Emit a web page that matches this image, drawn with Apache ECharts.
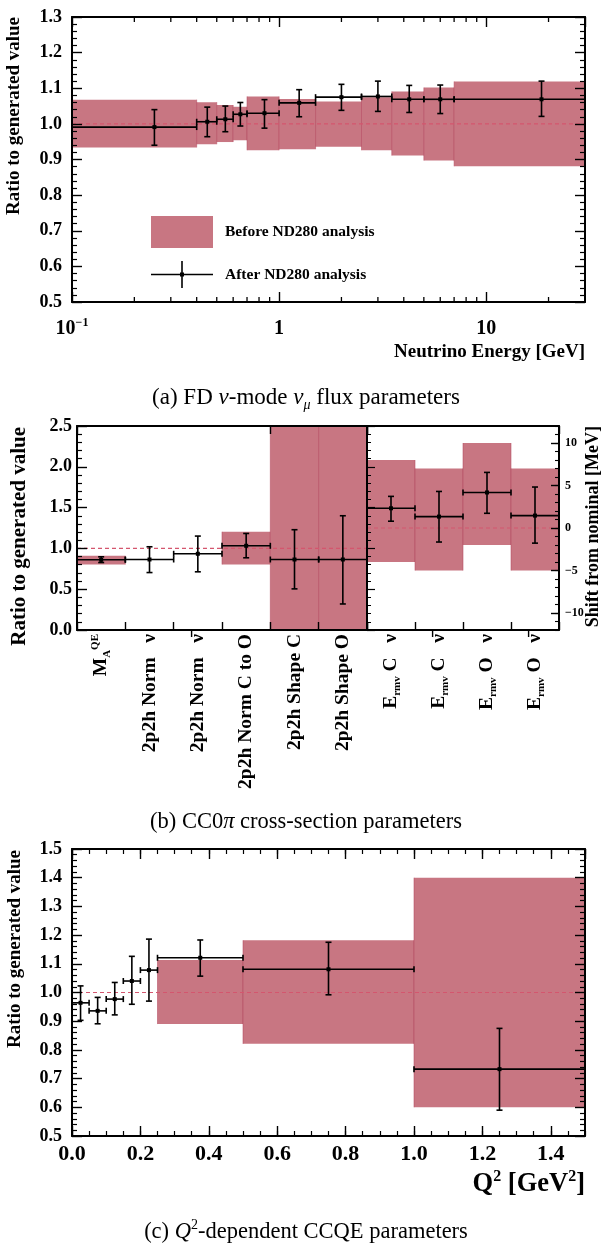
<!DOCTYPE html>
<html><head><meta charset="utf-8">
<script src="https://cdn.jsdelivr.net/npm/echarts@6/dist/echarts.min.js"></script>
<style>html,body{margin:0;padding:0;background:#fff}#c{width:603px;height:1243px}</style>
</head><body><div id="c"></div>
<script>
// ---------- Panel (a): FD nu-mode numu flux ----------
const fluxEdges = [0.1, 0.4, 0.5, 0.6, 0.7, 1.0, 1.5, 2.5, 3.5, 5.0, 7.0, 30];
const fluxBandLow  = [0.934, 0.943, 0.949, 0.954, 0.926, 0.929, 0.936, 0.926, 0.911, 0.897, 0.881];
const fluxBandHigh = [1.068, 1.061, 1.053, 1.048, 1.077, 1.070, 1.063, 1.075, 1.091, 1.102, 1.119];
const fluxPost     = [0.991, 1.006, 1.013, 1.027, 1.030, 1.059, 1.075, 1.077, 1.069, 1.069, 1.069];
const fluxPostLow  = [0.940, 0.964, 0.978, 0.994, 0.988, 1.020, 1.038, 1.035, 1.032, 1.029, 1.021];
const fluxPostHigh = [1.040, 1.047, 1.050, 1.060, 1.068, 1.096, 1.111, 1.120, 1.108, 1.109, 1.120];
const fluxMinorTicks = [0.2, 0.3, 0.4, 0.5, 0.6, 0.7, 0.8, 0.9, 2, 3, 4, 5, 6, 7, 8, 9, 20, 30];
const fluxNominal = 1.0;

// ---------- Panel (b): CC0pi cross-section parameters ----------
const xsecLabels = ['{b|M}{sub|A}{sup|QE}', '2p2h Norm\u00a0\u00a0\u00a0ν', '2p2h Norm\u00a0\u00a0\u00a0ν\u0304',
  '2p2h Norm C to O', '2p2h Shape C', '2p2h Shape O'];
const xsecBandLow  = [0.803, null, null, 0.803, 0.0, 0.0];
const xsecBandHigh = [0.909, null, null, 1.204, 2.5, 2.5];
const xsecPost     = [0.860, 0.864, 0.934, 1.032, 0.864, 0.864];
const xsecPostLow  = [0.827, 0.704, 0.713, 0.885, 0.504, 0.319];
const xsecPostHigh = [0.897, 1.020, 1.151, 1.183, 1.229, 1.400];
const xsecNominal = 1.0;

const ermvLabels = ['{b|E}{sub|rmv}{b|\u00a0C\u00a0\u00a0\u00a0ν}', '{b|E}{sub|rmv}{b|\u00a0C\u00a0\u00a0\u00a0ν\u0304}',
  '{b|E}{sub|rmv}{b|\u00a0O\u00a0\u00a0\u00a0ν}', '{b|E}{sub|rmv}{b|\u00a0O\u00a0\u00a0\u00a0ν\u0304}'];
const ermvBandLow  = [-4.0, -5.0, -2.0, -5.0];
const ermvBandHigh = [8.0, 7.0, 10.0, 7.0];
const ermvPost     = [2.32, 1.34, 4.18, 1.46];
const ermvPostLow  = [0.80, -1.65, 1.73, -1.78];
const ermvPostHigh = [3.72, 4.30, 6.54, 4.82];
const ermvMajorTicks = [-10, -5, 0, 5, 10];
const ermvNominal = 0;

// ---------- Panel (c): Q2-dependent CCQE ----------
const q2Edges    = [0, 0.05, 0.1, 0.15, 0.2, 0.25, 0.5, 1.0, 1.5];
const q2BandLow  = [null, null, null, null, null, 0.890, 0.821, 0.600];
const q2BandHigh = [null, null, null, null, null, 1.113, 1.182, 1.400];
const q2Post     = [0.964, 0.936, 0.977, 1.040, 1.078, 1.121, 1.081, 0.733];
const q2PostLow  = [0.903, 0.891, 0.922, 0.959, 0.970, 1.057, 0.992, 0.590];
const q2PostHigh = [1.023, 0.983, 1.035, 1.126, 1.186, 1.183, 1.175, 0.875];
const q2Nominal = 1.0;

// ---------- styling ----------
const SERIF = '"Liberation Serif","Times New Roman",serif';
const BAND = '#c87682';
const EDGE = 'rgba(180,72,95,0.55)';
const DASH = '#d4566e';

const chart = echarts.init(document.getElementById('c'), null, {renderer: 'canvas'});

function binBands(edges, lo, hi) {
  const d = [];
  for (let i = 0; i < lo.length; i++) if (lo[i] != null) d.push([edges[i], edges[i + 1], lo[i], hi[i]]);
  return d;
}
function binErrs(edges, v, lo, hi) {
  return v.map((y, i) => [(edges[i] + edges[i + 1]) / 2, edges[i], edges[i + 1], y, lo[i], hi[i]]);
}
function catBands(lo, hi) {
  const d = [];
  for (let i = 0; i < lo.length; i++) if (lo[i] != null) d.push([i, lo[i], hi[i]]);
  return d;
}
function catErrs(v, lo, hi) { return v.map((y, i) => [i, y, lo[i], hi[i]]); }

function bandGroup(x0, x1, yTop, yBot) {
  return {type: 'group', children: [
    {type: 'rect', shape: {x: x0, y: yTop, width: x1 - x0, height: yBot - yTop}, style: {fill: BAND}},
    {type: 'line', shape: {x1: x0, y1: yTop, x2: x0, y2: yBot}, style: {stroke: EDGE, lineWidth: 1}},
    {type: 'line', shape: {x1: x1, y1: yTop, x2: x1, y2: yBot}, style: {stroke: EDGE, lineWidth: 1}}
  ]};
}
function errGroup(cx, hx0, hx1, cy, ty, by) {
  const st = {stroke: '#000', lineWidth: 1.6};
  const cap = 3;
  return {type: 'group', children: [
    {type: 'line', shape: {x1: hx0, y1: cy, x2: hx1, y2: cy}, style: st},
    {type: 'line', shape: {x1: cx, y1: ty, x2: cx, y2: by}, style: st},
    {type: 'line', shape: {x1: cx - cap, y1: ty, x2: cx + cap, y2: ty}, style: st},
    {type: 'line', shape: {x1: cx - cap, y1: by, x2: cx + cap, y2: by}, style: st},
    {type: 'line', shape: {x1: hx0, y1: cy - cap, x2: hx0, y2: cy + cap}, style: st},
    {type: 'line', shape: {x1: hx1, y1: cy - cap, x2: hx1, y2: cy + cap}, style: st},
    {type: 'rect', shape: {x: cx - 2, y: cy - 2, width: 4, height: 4}, style: {fill: '#000'}}
  ]};
}
function renderBinBand(params, api) {
  const a = api.coord([api.value(0), api.value(3)]);
  const b = api.coord([api.value(1), api.value(2)]);
  return bandGroup(a[0], b[0], a[1], b[1]);
}
function renderBinErr(params, api) {
  const c = api.coord([api.value(0), api.value(3)]);
  const l = api.coord([api.value(1), api.value(3)]);
  const r = api.coord([api.value(2), api.value(3)]);
  const t = api.coord([api.value(0), api.value(5)]);
  const b = api.coord([api.value(0), api.value(4)]);
  return errGroup(c[0], l[0], r[0], c[1], t[1], b[1]);
}
function renderCatBand(params, api) {
  const w = api.size([1, 0])[0];
  const t = api.coord([api.value(0), api.value(2)]);
  const b = api.coord([api.value(0), api.value(1)]);
  return bandGroup(t[0] - w / 2, t[0] + w / 2, t[1], b[1]);
}
function renderCatErr(params, api) {
  const w = api.size([1, 0])[0];
  const c = api.coord([api.value(0), api.value(1)]);
  const b = api.coord([api.value(0), api.value(2)]);
  const t = api.coord([api.value(0), api.value(3)]);
  return errGroup(c[0], c[0] - w / 2, c[0] + w / 2, c[1], t[1], b[1]);
}
function renderDash(params, api) {
  const y = api.coord([api.value(0), api.value(1)])[1];
  const g = params.coordSys;
  return {type: 'line', z2: 50, shape: {x1: g.x, y1: y, x2: g.x + g.width, y2: y},
    style: {stroke: DASH, lineWidth: 1.2, lineDash: [4, 3]}};
}
function renderLogMinor(params, api) {
  const x = api.coord([api.value(0), api.value(1)])[0];
  const g = params.coordSys;
  const st = {stroke: '#000', lineWidth: 1.3};
  return {type: 'group', children: [
    {type: 'line', shape: {x1: x, y1: g.y + g.height, x2: x, y2: g.y + g.height - 5}, style: st},
    {type: 'line', shape: {x1: x, y1: g.y, x2: x, y2: g.y + 5}, style: st}
  ]};
}

const axisLine = {show: true, onZero: false, lineStyle: {color: '#000', width: 2}};
const tickMajor = {show: true, inside: true, length: 10, lineStyle: {color: '#000', width: 1.4}};
const minor5 = {show: true, splitNumber: 5, length: 5, lineStyle: {color: '#000', width: 1.2}};
const noLabel = {show: false};
const noSplit = {show: false};
const boldLabel = (size, margin) => ({fontFamily: SERIF, fontWeight: 'bold', fontSize: size, color: '#000', margin: margin});
const richStyles = (size) => ({
  b: {fontFamily: SERIF, fontWeight: 'bold', fontSize: size, lineHeight: size + 4, color: '#000'},
  sub: {fontFamily: SERIF, fontWeight: 'bold', fontSize: Math.round(size * 0.58), lineHeight: Math.round(size * 0.7), verticalAlign: 'bottom', color: '#000'},
  sup: {fontFamily: SERIF, fontWeight: 'bold', fontSize: Math.round(size * 0.58), lineHeight: Math.round(size * 0.7), verticalAlign: 'top', color: '#000'}
});
const catTick = {show: true, inside: true, length: 8, lineStyle: {color: '#000', width: 1.4}};

const option = {
  animation: false,
  backgroundColor: '#fff',
  grid: [
    {left: 72, top: 17, width: 513, height: 285, outerBoundsMode: 'none'},
    {left: 77, top: 426, width: 290, height: 204, outerBoundsMode: 'none'},
    {left: 367, top: 426, width: 192, height: 204, outerBoundsMode: 'none'},
    {left: 72, top: 849, width: 513, height: 287, outerBoundsMode: 'none'}
  ],
  legend: {
    data: [
      {name: 'Before ND280 analysis', icon: 'rect'},
      {name: 'After ND280 analysis', icon: 'path://M0,15.2H62V16.8H0Z M30.2,2.5H31.8V29.5H30.2Z M29,14H33V18H29Z'}
    ],
    left: 151, top: 216, padding: 0, orient: 'vertical', itemWidth: 62, itemHeight: 32, itemGap: 13,
    selectedMode: false,
    textStyle: {fontFamily: SERIF, fontWeight: 'bold', fontSize: 15.5, color: '#000', padding: [0, 0, 0, 7]}
  },
  xAxis: [
    {gridIndex: 0, type: 'log', logBase: 10, min: 0.1, max: 30, position: 'bottom', z: 10,
      axisLine, axisTick: tickMajor, splitLine: noSplit,
      axisLabel: Object.assign(boldLabel(20, 15), {showMaxLabel: false, rich: richStyles(20),
        formatter: v => { const e = Math.round(Math.log10(v)); if (Math.abs(Math.log10(v) - e) > 1e-6) return ''; return e === -1 ? '{b|10}{sup|\u22121}' : (e === 0 ? '{b|1}' : (e === 1 ? '{b|10}' : '')); }})},
    {gridIndex: 0, type: 'log', logBase: 10, min: 0.1, max: 30, position: 'top', z: 10,
      axisLine, axisTick: tickMajor, splitLine: noSplit, axisLabel: noLabel},
    {gridIndex: 1, type: 'category', data: xsecLabels, position: 'bottom', z: 10,
      axisLine, axisTick: catTick, splitLine: noSplit,
      axisLabel: Object.assign(boldLabel(19.5, 4), {rotate: 90, interval: 0, rich: richStyles(19.5)})},
    {gridIndex: 1, type: 'category', data: xsecLabels, position: 'top', z: 10,
      axisLine, axisTick: catTick, splitLine: noSplit, axisLabel: noLabel},
    {gridIndex: 2, type: 'category', data: ermvLabels, position: 'bottom', z: 10,
      axisLine, axisTick: catTick, splitLine: noSplit,
      axisLabel: Object.assign(boldLabel(19.5, 4), {rotate: 90, interval: 0, rich: richStyles(19.5)})},
    {gridIndex: 2, type: 'category', data: ermvLabels, position: 'top', z: 10,
      axisLine, axisTick: catTick, splitLine: noSplit, axisLabel: noLabel},
    {gridIndex: 3, type: 'value', min: 0, max: 1.5, interval: 0.2, position: 'bottom', z: 10,
      axisLine, axisTick: tickMajor, splitLine: noSplit,
      axisLabel: Object.assign(boldLabel(22, 7), {showMaxLabel: false, formatter: v => v.toFixed(1)})},
    {gridIndex: 3, type: 'value', min: 0, max: 1.5, interval: 0.05, position: 'bottom', z: 10,
      axisLine: {show: false, onZero: false}, axisTick: {show: true, inside: true, length: 5, lineStyle: {color: '#000', width: 1.2}}, splitLine: noSplit, axisLabel: noLabel},
    {gridIndex: 3, type: 'value', min: 0, max: 1.5, interval: 0.2, position: 'top', z: 10,
      axisLine, axisTick: tickMajor, splitLine: noSplit, axisLabel: noLabel},
    {gridIndex: 3, type: 'value', min: 0, max: 1.5, interval: 0.05, position: 'top', z: 10,
      axisLine: {show: false, onZero: false}, axisTick: {show: true, inside: true, length: 5, lineStyle: {color: '#000', width: 1.2}}, splitLine: noSplit, axisLabel: noLabel}
  ],
  yAxis: [
    {gridIndex: 0, type: 'value', min: 0.5, max: 1.3, interval: 0.1, position: 'left', z: 10,
      axisLine, axisTick: tickMajor, minorTick: minor5, splitLine: noSplit, minorSplitLine: noSplit,
      axisLabel: Object.assign(boldLabel(18, 10), {formatter: v => v.toFixed(1)})},
    {gridIndex: 0, type: 'value', min: 0.5, max: 1.3, interval: 0.1, position: 'right', z: 10,
      axisLine, axisTick: tickMajor, minorTick: minor5, splitLine: noSplit, axisLabel: noLabel},
    {gridIndex: 1, type: 'value', min: 0, max: 2.5, interval: 0.5, position: 'left', z: 10,
      axisLine, axisTick: tickMajor, minorTick: minor5, splitLine: noSplit,
      axisLabel: Object.assign(boldLabel(18, 5), {formatter: v => v.toFixed(1)})},
    {gridIndex: 1, type: 'value', min: 0, max: 2.5, interval: 0.5, position: 'right', z: 10,
      axisLine, axisTick: {show: true, inside: false, length: 8, lineStyle: {color: '#000', width: 1.2}},
      minorTick: {show: true, splitNumber: 5, length: 4, lineStyle: {color: '#000', width: 1}}, splitLine: noSplit, axisLabel: noLabel},
    {gridIndex: 2, type: 'value', min: -12, max: 12, position: 'left', z: 10,
      axisLine, axisTick: {show: false}, splitLine: noSplit, axisLabel: noLabel},
    {gridIndex: 2, type: 'value', min: -12, max: 12, position: 'right', z: 10,
      axisLine, axisTick: {show: true, inside: true, length: 8, customValues: ermvMajorTicks, lineStyle: {color: '#000', width: 1.4}}, splitLine: noSplit,
      axisLabel: Object.assign(boldLabel(12, 6), {customValues: ermvMajorTicks, formatter: v => String(v).replace('-', '\u2212')})},
    {gridIndex: 2, type: 'value', min: -12, max: 12, interval: 1, position: 'right', z: 10,
      axisLine: {show: false, onZero: false}, axisTick: {show: true, inside: true, length: 4, lineStyle: {color: '#000', width: 1.1}}, splitLine: noSplit, axisLabel: noLabel},
    {gridIndex: 3, type: 'value', min: 0.5, max: 1.5, interval: 0.1, position: 'left', z: 10,
      axisLine, axisTick: tickMajor, minorTick: minor5, splitLine: noSplit,
      axisLabel: Object.assign(boldLabel(18, 10), {formatter: v => v.toFixed(1)})},
    {gridIndex: 3, type: 'value', min: 0.5, max: 1.5, interval: 0.1, position: 'right', z: 10,
      axisLine, axisTick: tickMajor, minorTick: minor5, splitLine: noSplit, axisLabel: noLabel}
  ],
  series: [
    {name: 'Before ND280 analysis', type: 'custom', xAxisIndex: 0, yAxisIndex: 0, clip: true, z: 2,
      itemStyle: {color: BAND}, renderItem: renderBinBand, data: binBands(fluxEdges, fluxBandLow, fluxBandHigh)},
    {name: 'fluxNominal', type: 'custom', xAxisIndex: 0, yAxisIndex: 0, z: 4, silent: true,
      renderItem: renderDash, data: [[1, fluxNominal]]},
    {name: 'After ND280 analysis', type: 'custom', xAxisIndex: 0, yAxisIndex: 0, clip: true, z: 5,
      itemStyle: {color: '#000'}, renderItem: renderBinErr, data: binErrs(fluxEdges, fluxPost, fluxPostLow, fluxPostHigh)},
    {name: 'logMinorTicks', type: 'custom', xAxisIndex: 0, yAxisIndex: 0, z: 11, silent: true,
      renderItem: renderLogMinor, data: fluxMinorTicks.map(v => [v, 1.0])},

    {name: 'xsecPrior', type: 'custom', xAxisIndex: 2, yAxisIndex: 2, clip: true, z: 2,
      itemStyle: {color: BAND}, renderItem: renderCatBand, data: catBands(xsecBandLow, xsecBandHigh)},
    {name: 'xsecNominal', type: 'custom', xAxisIndex: 2, yAxisIndex: 2, z: 4, silent: true,
      renderItem: renderDash, data: [[0, xsecNominal]]},
    {name: 'xsecPost', type: 'custom', xAxisIndex: 2, yAxisIndex: 2, clip: true, z: 5,
      itemStyle: {color: '#000'}, renderItem: renderCatErr, data: catErrs(xsecPost, xsecPostLow, xsecPostHigh)},

    {name: 'ermvPrior', type: 'custom', xAxisIndex: 4, yAxisIndex: 5, clip: true, z: 2,
      itemStyle: {color: BAND}, renderItem: renderCatBand, data: catBands(ermvBandLow, ermvBandHigh)},
    {name: 'ermvNominal', type: 'custom', xAxisIndex: 4, yAxisIndex: 5, z: 4, silent: true,
      renderItem: renderDash, data: [[0, ermvNominal]]},
    {name: 'ermvPost', type: 'custom', xAxisIndex: 4, yAxisIndex: 5, clip: true, z: 5,
      itemStyle: {color: '#000'}, renderItem: renderCatErr, data: catErrs(ermvPost, ermvPostLow, ermvPostHigh)},

    {name: 'q2Prior', type: 'custom', xAxisIndex: 6, yAxisIndex: 7, clip: true, z: 2,
      itemStyle: {color: BAND}, renderItem: renderBinBand, data: binBands(q2Edges, q2BandLow, q2BandHigh)},
    {name: 'q2NominalLine', type: 'custom', xAxisIndex: 6, yAxisIndex: 7, z: 4, silent: true,
      renderItem: renderDash, data: [[0.5, q2Nominal]]},
    {name: 'q2Post', type: 'custom', xAxisIndex: 6, yAxisIndex: 7, clip: true, z: 5,
      itemStyle: {color: '#000'}, renderItem: renderBinErr, data: binErrs(q2Edges, q2Post, q2PostLow, q2PostHigh)}
  ],
  graphic: [
    {type: 'text', x: 14, y: 17, rotation: Math.PI / 2,
      style: {text: 'Ratio to generated value', font: 'bold 19px ' + SERIF, fill: '#000', align: 'right', verticalAlign: 'middle'}},
    {type: 'text', x: 585, y: 352,
      style: {text: 'Neutrino Energy [GeV]', font: 'bold 19px ' + SERIF, fill: '#000', align: 'right', verticalAlign: 'middle'}},
    {type: 'text', x: 306, y: 398,
      style: {text: '{r|(a) FD }{i|ν}{r|-mode }{i|ν}{sub|μ}{r| flux parameters}', align: 'center', verticalAlign: 'middle',
        rich: {r: {fontFamily: SERIF, fontSize: 23, lineHeight: 28, fill: '#000'},
               i: {fontFamily: SERIF, fontStyle: 'italic', fontSize: 23, lineHeight: 28, fill: '#000'},
               sub: {fontFamily: SERIF, fontStyle: 'italic', fontSize: 14, lineHeight: 17, verticalAlign: 'bottom', fill: '#000'}}}},
    {type: 'text', x: 20, y: 427, rotation: Math.PI / 2,
      style: {text: 'Ratio to generated value', font: 'bold 21px ' + SERIF, fill: '#000', align: 'right', verticalAlign: 'middle'}},
    {type: 'text', x: 593, y: 426, rotation: Math.PI / 2,
      style: {text: 'Shift from nominal [MeV]', font: 'bold 18px ' + SERIF, fill: '#000', align: 'right', verticalAlign: 'middle'}},
    {type: 'text', x: 306, y: 822,
      style: {text: '{r|(b) CC0}{i|π}{r| cross-section parameters}', align: 'center', verticalAlign: 'middle',
        rich: {r: {fontFamily: SERIF, fontSize: 22.5, lineHeight: 28, fill: '#000'},
               i: {fontFamily: SERIF, fontStyle: 'italic', fontSize: 22.5, lineHeight: 28, fill: '#000'}}}},
    {type: 'text', x: 15, y: 850, rotation: Math.PI / 2,
      style: {text: 'Ratio to generated value', font: 'bold 19px ' + SERIF, fill: '#000', align: 'right', verticalAlign: 'middle'}},
    {type: 'text', x: 585, y: 1184,
      style: {text: '{b|Q}{sup|2}{b| [GeV}{sup|2}{b|]}', align: 'right', verticalAlign: 'middle',
        rich: {b: {fontFamily: SERIF, fontWeight: 'bold', fontSize: 26.5, lineHeight: 31, fill: '#000'},
               sup: {fontFamily: SERIF, fontWeight: 'bold', fontSize: 16, lineHeight: 19, verticalAlign: 'top', fill: '#000'}}}},
    {type: 'text', x: 306, y: 1232,
      style: {text: '{r|(c) }{i|Q}{sup|2}{r|-dependent CCQE parameters}', align: 'center', verticalAlign: 'middle',
        rich: {r: {fontFamily: SERIF, fontSize: 22.5, lineHeight: 28, fill: '#000'},
               i: {fontFamily: SERIF, fontStyle: 'italic', fontSize: 22.5, lineHeight: 28, fill: '#000'},
               sup: {fontFamily: SERIF, fontSize: 14, lineHeight: 17, verticalAlign: 'top', fill: '#000'}}}}
  ]
};
chart.setOption(option);
</script>
</body></html>
